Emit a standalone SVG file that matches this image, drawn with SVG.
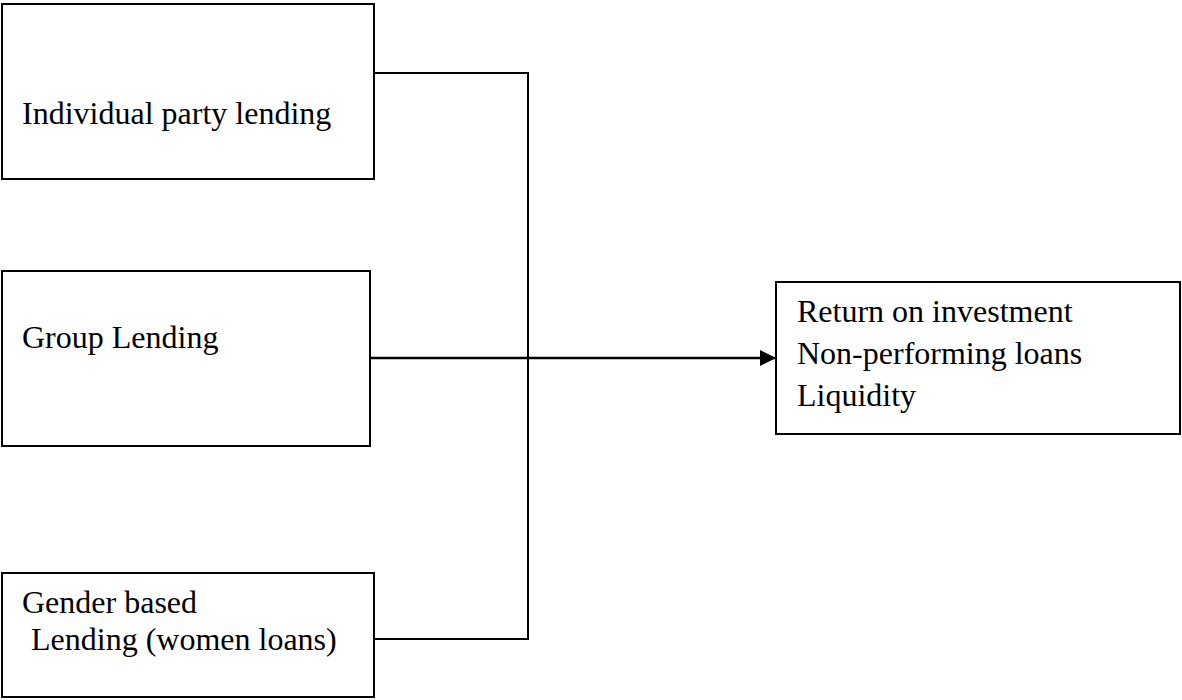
<svg xmlns="http://www.w3.org/2000/svg" width="1182" height="700" viewBox="0 0 1182 700">
<style>
.box{fill:#fff;stroke:#000;stroke-width:2}
.lbl{font-family:"Liberation Serif","Times New Roman",serif;font-size:32px;fill:#000}
.conn{fill:none;stroke:#000;stroke-width:2}
.main{fill:none;stroke:#000;stroke-width:2.6}
</style>
<defs>
<marker id="arr" markerUnits="userSpaceOnUse" markerWidth="18" markerHeight="18" refX="16" refY="8" orient="auto">
<path d="M0,0 L16,8 L0,16 Z" fill="#000"/>
</marker>
</defs>
<rect width="1182" height="700" fill="#fff"/>
<g id="node-individual">
<rect class="box" x="2" y="4" width="372" height="175"/>
<text class="lbl" x="22" y="124">Individual party lending</text>
</g>
<g id="node-group">
<rect class="box" x="2" y="271" width="368" height="175"/>
<text class="lbl" x="22" y="348">Group Lending</text>
</g>
<g id="node-gender">
<rect class="box" x="2" y="573" width="372" height="124"/>
<text class="lbl" x="22" y="613">Gender based</text>
<text class="lbl" x="31" y="650">Lending (women loans)</text>
</g>
<g id="node-performance">
<rect class="box" x="776" y="282" width="404" height="152"/>
<text class="lbl" x="797" y="322">Return on investment</text>
<text class="lbl" x="797" y="364">Non-performing loans</text>
<text class="lbl" x="797" y="406">Liquidity</text>
</g>
<g id="connectors">
<path class="conn" d="M374,73 H528 V639 H374"/>
<path class="main" d="M370,358 H776" marker-end="url(#arr)"/>
</g>
</svg>
